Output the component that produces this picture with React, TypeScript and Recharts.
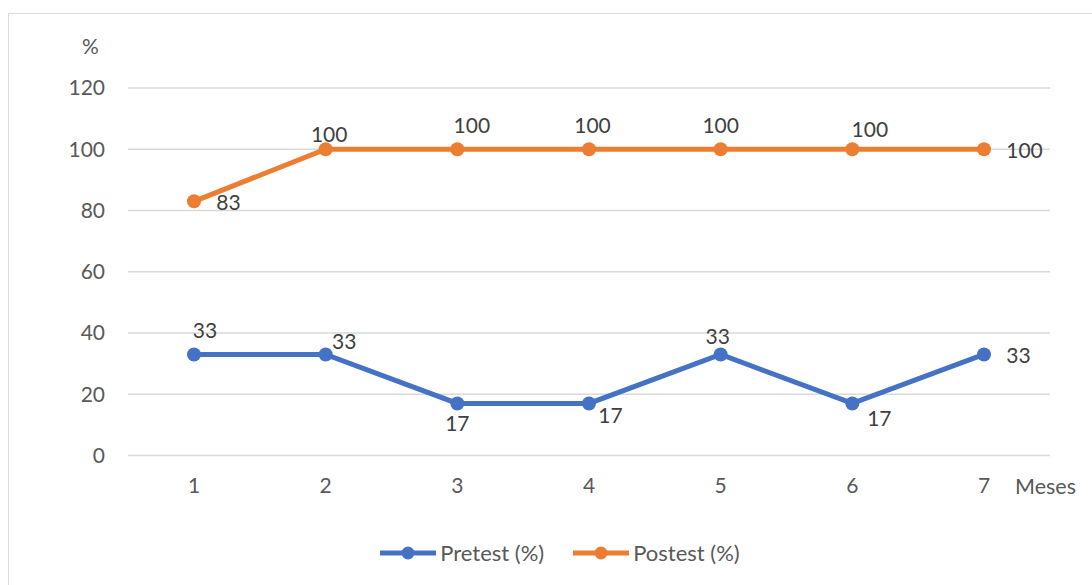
import { LineChart, Line, XAxis, YAxis, CartesianGrid, LabelList } from 'recharts';

const months = ['1', '2', '3', '4', '5', '6', '7'];
const pretest = [33, 33, 17, 17, 33, 17, 33];
const postest = [83, 100, 100, 100, 100, 100, 100];
const yTicks = [0, 20, 40, 60, 80, 100, 120];

// where each value label sits relative to its point (dx, dy of the text centre)
const pretestLabelPos = [[11, -23.5], [18.5, -13], [0, 20], [21.5, 12], [-3, -17.5], [27, 15], [34.5, 1]];
const postestLabelPos = [[34.5, 1.5], [3.5, -15], [14.5, -24], [3.5, -24], [0, -24], [17.5, -19.5], [40.5, 1.5]];

const BLUE = '#4472C4';
const ORANGE = '#ED7D31';
const FONT = 'Lato, "Open Sans", sans-serif';
const FS = 21;

const data = months.map((m, i) => ({ month: m, pretest: pretest[i], postest: postest[i] }));

function makeLabel(pos: number[][]) {
  return (props: any) => {
    const px = props.x ?? props.viewBox?.x;
    const py = props.y ?? props.viewBox?.y;
    const [dx, dy] = pos[props.index] ?? [0, -20];
    return (
      <text x={px + dx} y={py + dy + 7.5} textAnchor="middle" fill="#404040" fontSize={FS} fontFamily={FONT}>
        {props.value}
      </text>
    );
  };
}

function LegendItem({ color, text }: { color: string; text: string }) {
  return (
    <div style={{ display: 'flex', alignItems: 'center' }}>
      <svg width={56} height={14}>
        <line x1={0} y1={7} x2={56} y2={7} stroke={color} strokeWidth={5} strokeLinecap="round" />
        <circle cx={28} cy={7} r={6.5} fill={color} />
      </svg>
      <span style={{ marginLeft: 4 }}>{text}</span>
    </div>
  );
}

export default function App() {
  return (
    <div style={{ position: 'absolute', left: 0, top: 0, width: 1092, height: 585, fontFamily: FONT, background: '#fff' }}>
      <div
        style={{
          position: 'absolute', left: 8, top: 13, width: 1084, height: 572, boxSizing: 'border-box',
          borderLeft: '1px solid #d9d9d9', borderTop: '1px solid #d9d9d9',
        }}
      />
      <LineChart
        width={1092}
        height={585}
        data={data}
        margin={{ top: 88, right: 42, bottom: 99.5, left: 68 }}
        style={{ position: 'absolute', left: 0, top: 0 }}
      >
        <CartesianGrid vertical={false} stroke="#d9d9d9" strokeWidth={1.3} />
        <XAxis
          dataKey="month"
          height={30}
          padding={{ left: 66, right: 66 }}
          axisLine={false}
          tickLine={false}
          tickSize={0}
          tickMargin={23}
          tick={{ fill: '#595959', fontSize: FS, fontFamily: FONT }}
        />
        <YAxis
          width={60}
          domain={[0, 120]}
          ticks={yTicks}
          axisLine={false}
          tickLine={false}
          tickSize={0}
          tickMargin={23}
          tick={{ fill: '#595959', fontSize: FS, fontFamily: FONT }}
        />
        <Line
          dataKey="pretest"
          name="Pretest (%)"
          stroke={BLUE}
          strokeWidth={5}
          dot={{ r: 7, fill: BLUE, stroke: BLUE, strokeWidth: 0 }}
          activeDot={false}
          isAnimationActive={false}
        >
          <LabelList dataKey="pretest" content={makeLabel(pretestLabelPos)} />
        </Line>
        <Line
          dataKey="postest"
          name="Postest (%)"
          stroke={ORANGE}
          strokeWidth={5}
          dot={{ r: 7, fill: ORANGE, stroke: ORANGE, strokeWidth: 0 }}
          activeDot={false}
          isAnimationActive={false}
        >
          <LabelList dataKey="postest" content={makeLabel(postestLabelPos)} />
        </Line>
      </LineChart>
      <div style={{ position: 'absolute', left: 82, top: 33, fontSize: FS, color: '#595959' }}>%</div>
      <div style={{ position: 'absolute', left: 1015, top: 473, fontSize: 21.5, color: '#595959' }}>Meses</div>
      <div
        style={{
          position: 'absolute', left: 0, top: 539, width: 1092, display: 'flex', justifyContent: 'center',
          gap: 29, fontSize: 22, color: '#595959', paddingLeft: 28, boxSizing: 'border-box',
        }}
      >
        <LegendItem color={BLUE} text="Pretest (%)" />
        <LegendItem color={ORANGE} text="Postest (%)" />
      </div>
    </div>
  );
}
